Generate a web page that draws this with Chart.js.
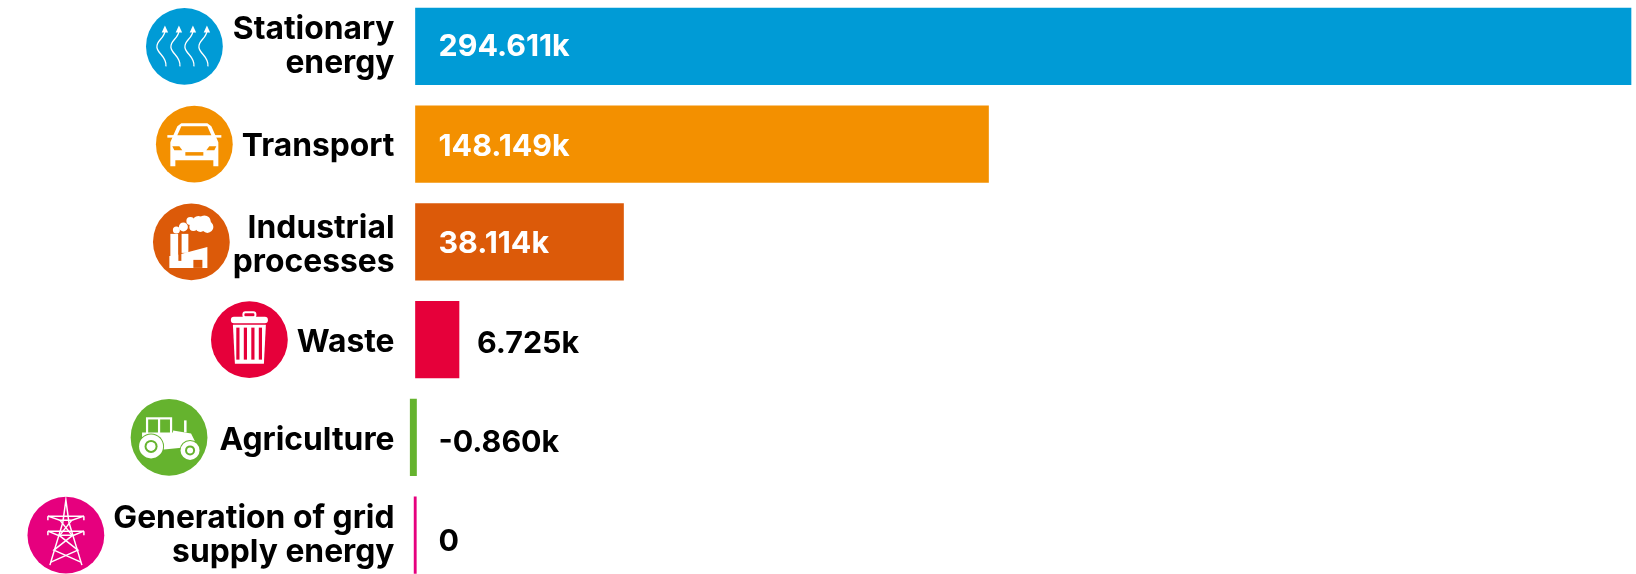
<!DOCTYPE html>
<html>
<head>
<meta charset="utf-8">
<title>Emissions by sector</title>
<script src="https://cdn.jsdelivr.net/npm/chart.js@4"></script>
<style>
    html, body { margin: 0; padding: 0; background: #fff; overflow: hidden; }
    #wrap { position: absolute; left: 0; top: -3px; width: 1636px; height: 587px; }
</style>
</head>
<body>
<div id="wrap"><canvas id="sectorChart"></canvas></div>
<script>
const sectors = [
    ['Stationary', 'energy'],
    ['Transport'],
    ['Industrial', 'processes'],
    ['Waste'],
    ['Agriculture'],
    ['Generation of grid', 'supply energy']
];
const valueLabels = ['294.611k', '148.149k', '38.114k', '6.725k', '-0.860k', '0'];

// The bars in the picture are not in proportion to their printed values,
// so these are the drawn extents read off the picture, not the values above.
const barStarts = [0, 0, 0, 0, -5.4, -1.4];
const barEnds = [1215.5, 573, 208, 43.5, 1, 0.8];

const barColors = ['#009bd6', '#f39000', '#dc5a09', '#e6003a', '#65b32e', '#e6007e'];

const LABEL_FONT = '700 31.8px Inter';
const VALUE_FONT = '700 30.4px Inter';
const WHITE = '#fff';

// the text in the original does not sit exactly on the bar centres
const labelNudge = [0.5, 2.5, 4, 3, 3, 0];
const valueNudge = [0.5, 2.5, 1.5, 4.5, 5.5, 6.5];
// Inter runs a bit wider than the original font, this keeps the circles in place
const iconNudge = [1, 2, 8, 2, -1, 2];

function line(ctx, pts, width) {
    ctx.lineWidth = width;
    ctx.beginPath();
    pts.forEach((p, i) => i ? ctx.lineTo(p[0], p[1]) : ctx.moveTo(p[0], p[1]));
    ctx.stroke();
}

function disc(ctx, x, y, r, color) {
    ctx.fillStyle = color;
    ctx.beginPath();
    ctx.arc(x, y, r, 0, Math.PI * 2);
    ctx.fill();
}

function box(ctx, x, y, w, h, color) {
    ctx.fillStyle = color;
    ctx.fillRect(x, y, w, h);
}

function poly(ctx, pts, color) {
    ctx.fillStyle = color;
    ctx.beginPath();
    pts.forEach((p, i) => i ? ctx.lineTo(p[0], p[1]) : ctx.moveTo(p[0], p[1]));
    ctx.closePath();
    ctx.fill();
}

// ICONS, each drawn around the centre of its circle
const icons = [
    function heat(ctx) {
        [-19.5, -5.5, 8.5, 22.5].forEach(x => {
            ctx.lineWidth = 1.3;
            ctx.beginPath();
            ctx.moveTo(x, -16);
            ctx.bezierCurveTo(x, -8, x - 9, -6, x - 8, 1);
            ctx.bezierCurveTo(x - 7, 8, x + 2, 10, x + 1, 20);
            ctx.stroke();
            poly(ctx, [[x, -21], [x + 3.2, -14], [x - 3.2, -14]], WHITE);
        });
    },
    function car(ctx, bg) {
        poly(ctx, [[-13, -21], [13, -21], [17, -18], [21, -9], [24, -2], [24, 22], [19, 22], [19, 16],
            [-19, 16], [-19, 22], [-24, 22], [-24, -2], [-21, -9], [-17, -18]], WHITE);
        box(ctx, -27, -9, 54, 2.5, WHITE);
        poly(ctx, [[-13, -18], [13, -18], [17, -9], [-17, -9]], bg);
        poly(ctx, [[-22, 2], [-15, 2], [-12, 6], [-20, 6]], bg);
        poly(ctx, [[22, 2], [15, 2], [12, 6], [20, 6]], bg);
        box(ctx, -9, 8, 18, 3.5, bg);
    },
    function factory(ctx, bg) {
        box(ctx, -21, -8, 8, 27, WHITE);
        box(ctx, -10, -8, 7, 19, WHITE);
        poly(ctx, [[-18, 14], [16, 5], [16, 26], [-22, 26], [-22, 14]], WHITE);
        box(ctx, 2, 18, 9, 8, bg);
        box(ctx, -13, -8, 3, 27, bg);
        disc(ctx, -15, -12, 3.5, WHITE);
        disc(ctx, -8, -15, 4.5, WHITE);
        disc(ctx, -1, -21, 4, WHITE);
        disc(ctx, 2, -15, 4, WHITE);
        disc(ctx, 7, -20, 6, WHITE);
        disc(ctx, 13, -20, 6.5, WHITE);
        disc(ctx, 16, -15, 6, WHITE);
        disc(ctx, 9, -15, 5, WHITE);
    },
    function bin(ctx, bg) {
        ctx.fillStyle = WHITE;
        ctx.beginPath();
        ctx.roundRect(-18.5, -23, 37, 6.5, 3);
        ctx.fill();
        ctx.lineWidth = 2;
        ctx.beginPath();
        ctx.roundRect(-6, -27.5, 12, 5, 2);
        ctx.stroke();
        poly(ctx, [[-16.5, -15], [16.5, -15], [14.5, 24], [-14.5, 24]], WHITE);
        [-11.5, -4, 3.5, 11].forEach(x => {
            poly(ctx, [[x - 1.6, -12], [x + 1.6, -12], [x + 1.6, 20], [x - 1.6, 20]], bg);
        });
    },
    function tractor(ctx, bg) {
        ctx.lineWidth = 2.2;
        ctx.strokeRect(-22, -19, 24, 16);
        ctx.beginPath();
        ctx.moveTo(-10, -19);
        ctx.lineTo(-10, -4);
        ctx.stroke();
        poly(ctx, [[-27, -5], [4, -5], [4, -7], [22, -4], [26, 4], [25, 9], [-5, 12], [-27, 6]], WHITE);
        box(ctx, 15, -17, 2.5, 12, WHITE);
        disc(ctx, -18, 9, 13, bg);
        disc(ctx, -18, 9, 12, WHITE);
        disc(ctx, -18, 9, 6.5, bg);
        disc(ctx, -18, 9, 4.5, WHITE);
        disc(ctx, 21, 13, 10.5, bg);
        disc(ctx, 21, 13, 9.5, WHITE);
        disc(ctx, 21, 13, 5, bg);
        disc(ctx, 21, 13, 3, WHITE);
    },
    function pylon(ctx) {
        const w = 1.5;
        line(ctx, [[-16, 30], [-3, -13], [0, -35], [3, -13], [16, 30]], w);
        line(ctx, [[-18, -19], [-6, -15], [6, -15], [18, -19]], w);
        line(ctx, [[-18, -19], [18, -19]], w);
        line(ctx, [[-18, -4], [-8, 0], [8, 0], [18, -4]], w);
        line(ctx, [[-18, -4], [18, -4]], w);
        line(ctx, [[-6, -15], [6, 0]], w);
        line(ctx, [[6, -15], [-6, 0]], w);
        line(ctx, [[-7, 0], [12, 15], [-15, 27]], w);
        line(ctx, [[7, 0], [-12, 15], [15, 27]], w);
        line(ctx, [[-18, -19], [-18, -15]], w);
        line(ctx, [[18, -19], [18, -15]], w);
        line(ctx, [[-18, -4], [-18, 0]], w);
        line(ctx, [[18, -4], [18, 0]], w);
    }
];

// draws the printed values and the round icons next to the axis labels
const decorPlugin = {
    id: 'decor',
    beforeDraw(chart) {
        chart.scales.y.getLabelItems().forEach((item, i) => {
            if (!item.nudged) {
                item.options.translation[1] += labelNudge[i];
                item.nudged = true;
            }
        });
    },
    afterDatasetsDraw(chart) {
        const ctx = chart.ctx;
        const bars = chart.getDatasetMeta(0).data;
        const x0 = chart.scales.x.getPixelForValue(0);
        const y = chart.scales.y;

        bars.forEach((bar, i) => {
            const inside = bar.x - x0 > 100;
            const small = bar.x - x0 < 5;
            ctx.save();
            ctx.font = VALUE_FONT;
            ctx.fillStyle = inside ? WHITE : '#000';
            ctx.textBaseline = 'middle';
            ctx.textAlign = 'left';
            ctx.fillText(valueLabels[i], (inside || small) ? x0 + 23 : bar.x + 18, bar.y + valueNudge[i]);

            // icon circle sits just left of the longest label line
            ctx.font = LABEL_FONT;
            const labelWidth = Math.max(...sectors[i].map(s => ctx.measureText(s).width));
            const r = 38.4;
            const cx = y.right - 15 - labelWidth - 11 - r + iconNudge[i];
            ctx.translate(cx, bar.y);
            disc(ctx, 0, 0, r, barColors[i]);
            ctx.strokeStyle = WHITE;
            ctx.fillStyle = WHITE;
            icons[i](ctx, barColors[i]);
            ctx.restore();
        });
    }
};

new Chart(document.getElementById('sectorChart'), {
    type: 'bar',
    data: {
        labels: sectors,
        datasets: [{
            data: barStarts.map((s, i) => [s, barEnds[i]]),
            backgroundColor: barColors,
            barThickness: 76.5,
            borderSkipped: false
        }]
    },
    options: {
        indexAxis: 'y',
        responsive: true,
        maintainAspectRatio: false,
        animation: false,
        layout: { padding: { top: 0.5 } },
        plugins: {
            legend: { display: false },
            tooltip: { enabled: false }
        },
        scales: {
            x: {
                display: false,
                min: -6,
                max: 1220.5
            },
            y: {
                border: { display: false },
                grid: { display: false, drawTicks: false },
                afterFit(scale) {
                    scale.width = 409.5;
                    scale.paddingTop = 0;
                    scale.paddingBottom = 0;
                },
                ticks: {
                    color: '#000',
                    padding: 15,
                    crossAlign: 'near',
                    autoSkip: false,
                    font: { family: 'Inter', size: 31.8, weight: '700', lineHeight: '34px' }
                }
            }
        }
    },
    plugins: [decorPlugin]
});
</script>
</body>
</html>
